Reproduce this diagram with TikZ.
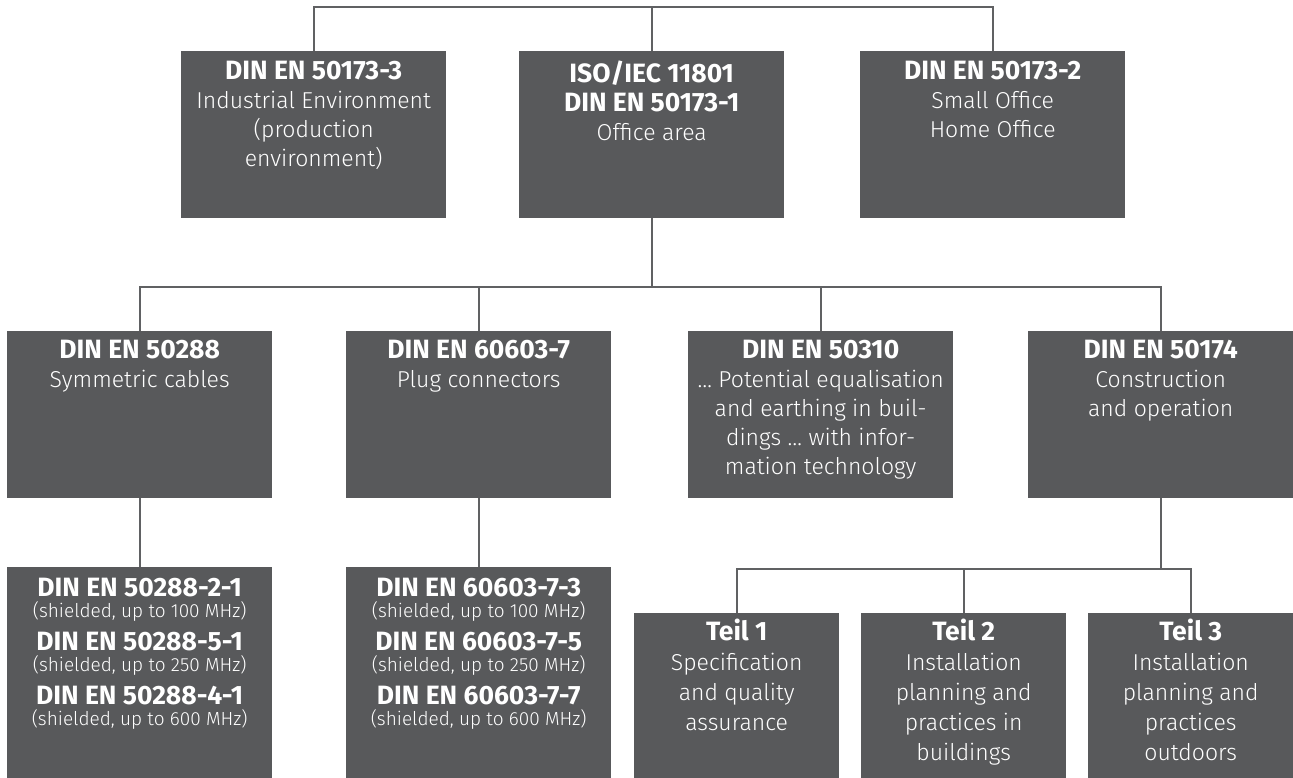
\documentclass[tikz,border=0pt]{standalone}
\usepackage{fontspec}
\setmainfont{Fira Sans}[UprightFont={* Light}, BoldFont={* Bold}]
\definecolor{boxgray}{HTML}{58595B}
\definecolor{linegray}{HTML}{606163}
\newcommand{\hd}[1]{{\fontsize{26.5}{29}\selectfont\bfseries #1}}
\newcommand{\sm}[1]{{\fontsize{19}{21}\selectfont #1}}
\newcommand{\nolsl}{\lineskiplimit=-50pt\relax}
\begin{document}
\begin{tikzpicture}[x=1pt,y=-1pt,
  box/.style={fill=boxgray, draw=none, inner sep=0, anchor=north west, minimum width=265pt, minimum height=167pt},
  tbox/.style={box, minimum width=205pt, minimum height=165pt},
  lowbox/.style={box, minimum height=211pt},
  lbl/.style={text=white, align=center, anchor=north, inner sep=0, font=\fontsize{23}{29}\selectfont, execute at begin node={\nolsl\rule{0pt}{21pt}}},
  slbl/.style={lbl, font=\fontsize{23}{21}\selectfont},
  tlbl/.style={lbl, font=\fontsize{23}{30}\selectfont},
  conn/.style={draw=linegray, line width=2pt, line join=miter}]
\path[use as bounding box] (0,0) rectangle (1293,778);
% row 1
\node[box] (b1) at (181,51) {};
\node[box] (b2) at (519,51) {};
\node[box] (b3) at (860,51) {};
% row 2
\node[box] (c1) at (7,331) {};
\node[box] (c2) at (346,331) {};
\node[box] (c3) at (688,331) {};
\node[box] (c4) at (1028,331) {};
% row 3
\node[lowbox] (d1) at (7,567) {};
\node[lowbox] (d2) at (346,567) {};
% row 4
\node[tbox] (t1) at (634,613) {};
\node[tbox] (t2) at (861,613) {};
\node[tbox] (t3) at (1088,613) {};
% labels
\node[lbl] (lb1) at ([yshift=-10pt]b1.north) {\hd{DIN EN 50173-3}\\Industrial Environment\\(production\\environment)};
\node[lbl] (lb2) at ([yshift=-10pt]b2.north) {\hd{ISO/IEC 11801}\\\hd{DIN EN 50173-1}\\Office area};
\node[lbl] (lb3) at ([yshift=-10pt]b3.north) {\hd{DIN EN 50173-2}\\Small Office\\Home Office};
\node[lbl] (lc1) at ([yshift=-9pt]c1.north) {\hd{DIN EN 50288}\\Symmetric cables};
\node[lbl] (lc2) at ([yshift=-9pt]c2.north) {\hd{DIN EN 60603-7}\\Plug connectors};
\node[lbl] (lc3) at ([yshift=-9pt]c3.north) {\hd{DIN EN 50310}\\\ldots\ Potential equalisation\\and earthing in buil-\\dings \ldots\ with infor-\\mation technology};
\node[lbl] (lc4) at ([yshift=-9pt]c4.north) {\hd{DIN EN 50174}\\Construction\\and operation};
\node[slbl] (ld1) at ([yshift=-11pt]d1.north) {\hd{DIN EN 50288-2-1}\\\sm{(shielded, up to 100 MHz)}\\[12pt]\hd{DIN EN 50288-5-1}\\\sm{(shielded, up to 250 MHz)}\\[12pt]\hd{DIN EN 50288-4-1}\\\sm{(shielded, up to 600 MHz)}};
\node[slbl] (ld2) at ([yshift=-11pt]d2.north) {\hd{DIN EN 60603-7-3}\\\sm{(shielded, up to 100 MHz)}\\[12pt]\hd{DIN EN 60603-7-5}\\\sm{(shielded, up to 250 MHz)}\\[12pt]\hd{DIN EN 60603-7-7}\\\sm{(shielded, up to 600 MHz)}};
\node[tlbl] (lt1) at ([yshift=-6pt]t1.north) {\hd{Teil 1}\\Specification\\and quality\\assurance};
\node[tlbl] (lt2) at ([yshift=-6pt]t2.north) {\hd{Teil 2}\\Installation\\planning and\\practices in\\buildings};
\node[tlbl] (lt3) at ([yshift=-6pt]t3.north) {\hd{Teil 3}\\Installation\\planning and\\practices\\outdoors};
% connectors
\coordinate (topbar) at (0,7);
\coordinate (midbar) at (0,287);
\coordinate (lowbar) at (0,569);
\draw[conn] (b1.north) -- (b1.north |- topbar) -- (b3.north |- topbar) -- (b3.north);
\draw[conn] (b2.north) -- (b2.north |- topbar);
\draw[conn] (b2.south) -- (b2.south |- midbar);
\draw[conn] (c1.north) -- (c1.north |- midbar) -- (c4.north |- midbar) -- (c4.north);
\draw[conn] (c2.north) -- (c2.north |- midbar);
\draw[conn] (c3.north) -- (c3.north |- midbar);
\draw[conn] (c1.south) -- (d1.north);
\draw[conn] (c2.south) -- (d2.north);
\draw[conn] (c4.south) -- (c4.south |- lowbar);
\draw[conn] (t1.north) -- (t1.north |- lowbar) -- (t3.north |- lowbar) -- (t3.north);
\draw[conn] (t2.north) -- (t2.north |- lowbar);
\end{tikzpicture}
\end{document}
